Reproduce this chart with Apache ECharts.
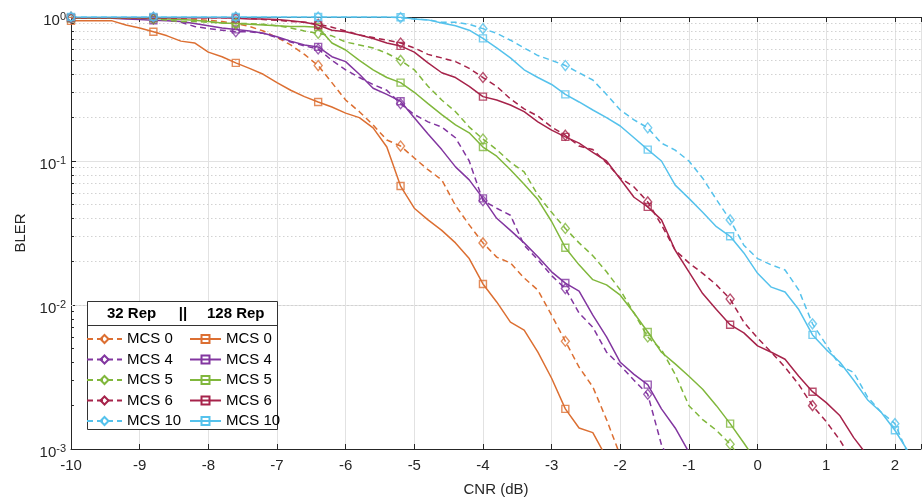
<!DOCTYPE html>
<html>
<head>
<meta charset="utf-8">
<script src="https://cdn.jsdelivr.net/npm/echarts/dist/echarts.min.js"></script>
<style>html,body{margin:0;padding:0;background:#fff}#c{width:924px;height:502px}</style>
</head>
<body>
<div id="c"></div>
<script>
// ---------------- data ----------------
const CNR = [-10,-9.8,-9.6,-9.4,-9.2,-9.0,-8.8,-8.6,-8.4,-8.2,
  -8.0,-7.8,-7.6,-7.4,-7.2,-7.0,-6.8,-6.6,-6.4,-6.2,
  -6.0,-5.8,-5.6,-5.4,-5.2,-5.0,-4.8,-4.6,-4.4,-4.2,
  -4.0,-3.8,-3.6,-3.4,-3.2,-3.0,-2.8,-2.6,-2.4,-2.2,
  -2.0,-1.8,-1.6,-1.4,-1.2,-1.0,-0.8,-0.6,-0.4,-0.2,
  0.0,0.2,0.4,0.6,0.8,1.0,1.2,1.4,1.6,1.8,
  2.0,2.2];

const MCS_NAMES = ['MCS 0','MCS 4','MCS 5','MCS 6','MCS 10'];
const REP_NAMES = ['32 Rep','128 Rep'];

// 32 repetitions (dashed, diamonds)
const rep32_mcs0 = [0.99,0.99,0.99,0.99,0.99,0.99,0.98,0.98,0.97,0.96,
  0.95,0.93,0.90,0.86,0.80,0.72,0.64,0.55,0.46,0.35,
  0.265,0.22,0.178,0.14,0.127,0.105,0.087,0.074,0.049,0.036,
  0.027,0.0215,0.0196,0.0154,0.0127,0.0085,0.0056,0.0037,0.0027,0.0016,
  0.0009];
const rep32_mcs4 = [0.99,0.99,0.99,0.99,0.99,0.98,0.97,0.95,0.92,0.86,
  0.83,0.81,0.79,0.79,0.77,0.72,0.67,0.63,0.60,0.50,
  0.43,0.38,0.34,0.31,0.25,0.21,0.187,0.172,0.145,0.10,
  0.053,0.047,0.042,0.026,0.0206,0.016,0.013,0.0088,0.007,0.0047,
  0.0038,0.003,0.0024,0.00107,0.0007];
const rep32_mcs5 = [0.99,0.99,0.99,0.99,0.99,0.98,0.97,0.95,0.93,0.93,
  0.92,0.91,0.90,0.90,0.89,0.87,0.84,0.80,0.77,0.74,
  0.67,0.64,0.61,0.56,0.50,0.43,0.33,0.265,0.22,0.172,
  0.142,0.12,0.098,0.084,0.058,0.044,0.034,0.027,0.022,0.017,
  0.0127,0.0088,0.006,0.0049,0.0033,0.002,0.0016,0.00135,0.00108,0.0008];
const rep32_mcs6 = [0.99,0.99,0.99,0.99,0.99,0.99,0.99,0.99,0.99,0.99,
  0.99,0.99,0.99,0.98,0.96,0.95,0.93,0.92,0.89,0.85,
  0.80,0.75,0.72,0.69,0.66,0.61,0.55,0.52,0.49,0.44,
  0.38,0.33,0.27,0.23,0.205,0.172,0.151,0.127,0.12,0.097,
  0.076,0.066,0.052,0.036,0.024,0.0196,0.0166,0.0138,0.011,0.0076,
  0.0059,0.0047,0.0037,0.0028,0.002,0.00155,0.00115,0.0008];
const rep32_mcs10 = [1,1,1,1,1,1,1,1,1,1,
  1,1,1,1,1,1,1,1,1,1,
  1,1,1,1,0.99,0.97,0.955,0.92,0.92,0.89,
  0.83,0.77,0.69,0.61,0.54,0.50,0.46,0.41,0.365,0.29,
  0.226,0.193,0.17,0.133,0.119,0.10,0.076,0.054,0.039,0.026,
  0.021,0.019,0.0175,0.0127,0.0074,0.0053,0.0038,0.0034,0.0023,0.0018,
  0.0015,0.0009];

// 128 repetitions (solid, squares)
const rep128_mcs0 = [0.94,0.94,0.94,0.94,0.88,0.84,0.79,0.74,0.68,0.66,
  0.57,0.53,0.48,0.44,0.40,0.35,0.31,0.28,0.257,0.237,
  0.215,0.20,0.17,0.125,0.067,0.047,0.039,0.033,0.027,0.021,
  0.014,0.0105,0.0076,0.0067,0.0047,0.0031,0.0019,0.0014,0.0013,0.00087];
const rep128_mcs4 = [0.98,0.98,0.98,0.98,0.97,0.96,0.95,0.94,0.93,0.90,
  0.87,0.84,0.82,0.80,0.77,0.73,0.68,0.64,0.62,0.53,
  0.49,0.40,0.32,0.29,0.26,0.20,0.154,0.12,0.091,0.074,
  0.055,0.040,0.033,0.027,0.0216,0.017,0.0142,0.0125,0.0085,0.006,
  0.004,0.0033,0.0028,0.0019,0.0014,0.00095];
const rep128_mcs5 = [0.98,0.98,0.98,0.98,0.98,0.98,0.98,0.97,0.96,0.95,
  0.93,0.91,0.90,0.89,0.88,0.87,0.86,0.86,0.85,0.66,
  0.59,0.50,0.43,0.38,0.35,0.30,0.25,0.21,0.178,0.157,
  0.125,0.108,0.087,0.069,0.054,0.038,0.025,0.019,0.015,0.0138,
  0.0117,0.0088,0.0065,0.0047,0.0039,0.0032,0.0026,0.002,0.0015,0.0011,
  0.0008];
const rep128_mcs6 = [0.99,0.99,0.99,0.99,0.99,0.99,0.99,0.99,0.99,0.99,
  0.99,0.99,0.98,0.97,0.97,0.96,0.94,0.92,0.88,0.81,
  0.79,0.75,0.71,0.66,0.63,0.57,0.48,0.41,0.38,0.33,
  0.28,0.265,0.245,0.22,0.187,0.164,0.147,0.133,0.115,0.10,
  0.075,0.056,0.048,0.039,0.024,0.017,0.012,0.0093,0.0073,0.0064,
  0.0052,0.0047,0.0042,0.0032,0.0025,0.0021,0.0017,0.0012,0.0009];
const rep128_mcs10 = [1,1,1,1,1,1,1,1,1,1,
  1,1,1,1,1,1,1,1,1,1,
  1,1,1,1,0.995,0.97,0.955,0.91,0.87,0.81,
  0.71,0.61,0.52,0.43,0.38,0.34,0.29,0.257,0.226,0.20,
  0.175,0.145,0.12,0.10,0.068,0.055,0.044,0.035,0.030,0.023,
  0.0166,0.0133,0.0123,0.0093,0.0062,0.0049,0.004,0.003,0.0022,0.0018,
  0.00135,0.00095];

const X_TICKS = [-10,-9,-8,-7,-6,-5,-4,-3,-2,-1,0,1,2];
const Y_MINOR = [0.002,0.003,0.004,0.005,0.006,0.007,0.008,0.009,
  0.02,0.03,0.04,0.05,0.06,0.07,0.08,0.09,
  0.2,0.3,0.4,0.5,0.6,0.7,0.8,0.9];

// ---------------- styling ----------------
const COLORS = ['#DC6F32','#8236A0','#80B73C','#A6234A','#55C2EC'];
const FONT = 'Liberation Sans, Arial, Helvetica, sans-serif';
const AXIS_C = '#262626';
const MARKER_EVERY = 6;

const groups = [
  {name: MCS_NAMES[0], c: COLORS[0], d32: rep32_mcs0, d128: rep128_mcs0},
  {name: MCS_NAMES[1], c: COLORS[1], d32: rep32_mcs4, d128: rep128_mcs4},
  {name: MCS_NAMES[2], c: COLORS[2], d32: rep32_mcs5, d128: rep128_mcs5},
  {name: MCS_NAMES[3], c: COLORS[3], d32: rep32_mcs6, d128: rep128_mcs6},
  {name: MCS_NAMES[4], c: COLORS[4], d32: rep32_mcs10, d128: rep128_mcs10}
];

function pts(d){ return d.map((v,i)=>[CNR[i], v]); }
function markerPts(d){ return d.map((v,i)=>[CNR[i], v]).filter((p,i)=> i % MARKER_EVERY === 0); }

const series = [];
// decoration: minor grid lines and minor ticks on log axis
series.push({
  type:'line', name:'_grid', data:[], silent:true, z:1,
  markLine:{
    silent:true, animation:false, z:1, symbol:['none','none'], label:{show:false},
    emphasis:{disabled:true},
    lineStyle:{color:'#d2d2d2', type:[1.5,2.5], width:1},
    data: Y_MINOR.map(v=>({yAxis:v})).concat(
      Y_MINOR.map(v=>[{coord:[-10, v], lineStyle:{type:'solid', color:AXIS_C, width:1}}, {coord:[-9.957, v]}]))
  }
});

groups.forEach(g=>{
  const defs = [
    {rep:'32', d:g.d32, dash:[6,4], sym:'diamond', size:[8,10]},
    {rep:'128', d:g.d128, dash:'solid', sym:'rect', size:7}
  ];
  defs.forEach(df=>{
    series.push({
      type:'line', name: df.rep + '|' + g.name, data: pts(df.d),
      symbol: df.sym, showSymbol:false, color: g.c, clip:true,
      lineStyle:{color:g.c, width:1.5, type: df.dash},
      itemStyle:{color:'rgba(255,255,255,0)', borderColor:g.c, borderWidth:1.4},
      z:3, animation:false, silent:true
    });
    series.push({
      type:'scatter', name: 'm' + df.rep + '|' + g.name, data: markerPts(df.d),
      symbol: df.sym, symbolSize: df.size, clip:false,
      itemStyle:{color:'rgba(255,255,255,0)', borderColor:g.c, borderWidth:1.4},
      z:4, animation:false, silent:true
    });
  });
});

function supLabel(v){
  const e = Math.round(Math.log10(v));
  return '{b|10}{s|' + e + '}';
}

const legendCommon = {
  orient:'vertical', top:331, itemHeight:10, itemGap:4.5, padding:0,
  selectedMode:false, z:12, icon:'inherit',
  formatter: n => n.split('|')[1],
  textStyle:{fontSize:15, lineHeight:16, color:'#000', fontFamily:FONT}
};

const option = {
  animation:false,
  backgroundColor:'#fff',
  textStyle:{fontFamily:FONT},
  grid:{left:71, right:0, top:17, bottom:53, containLabel:false},
  xAxis:[{
    type:'value', min:-10, max:2.38, interval:1, position:'bottom',
    axisLine:{show:true, onZero:false, lineStyle:{color:AXIS_C, width:1}},
    axisTick:{show:true, inside:true, length:5, lineStyle:{color:AXIS_C}},
    axisLabel:{margin:9, fontSize:15, color:AXIS_C, fontFamily:FONT,
      formatter: v => X_TICKS.indexOf(Math.round(v)) >= 0 && Math.abs(v-Math.round(v))<1e-9 ? String(Math.round(v)) : ''},
    splitLine:{show:true, lineStyle:{color:'#e2e2e2', width:1}},
    name:'CNR (dB)', nameLocation:'middle', nameGap:33,
    nameTextStyle:{fontSize:15, color:AXIS_C, fontFamily:FONT}
  },{
    type:'value', min:-10, max:2.38, interval:1, position:'top',
    axisLine:{show:true, onZero:false, lineStyle:{color:AXIS_C, width:1}},
    axisTick:{show:true, inside:true, length:5, lineStyle:{color:AXIS_C}},
    axisLabel:{show:false}, splitLine:{show:false}
  }],
  yAxis:{
    type:'log', logBase:10, min:0.001, max:1,
    axisLine:{show:true, onZero:false, lineStyle:{color:AXIS_C, width:1}},
    axisTick:{show:true, inside:true, length:5, lineStyle:{color:AXIS_C}},
    axisLabel:{margin:5, color:AXIS_C, formatter: supLabel,
      rich:{
        b:{fontSize:15, fontFamily:FONT, color:AXIS_C, padding:[8,0,0,0]},
        s:{fontSize:11, fontFamily:FONT, color:AXIS_C}
      }},
    splitLine:{show:true, lineStyle:{color:'#e2e2e2', width:1}},
    name:'BLER', nameLocation:'middle', nameGap:41,
    nameTextStyle:{fontSize:15, color:AXIS_C, fontFamily:FONT}
  },
  legend:[
    Object.assign({}, legendCommon, {left:86, itemWidth:35, data: MCS_NAMES.map(n=>'32|'+n)}),
    Object.assign({}, legendCommon, {left:189, itemWidth:31, data: MCS_NAMES.map(n=>'128|'+n)})
  ],
  graphic:[
    {type:'rect', z:10, shape:{x:87.5, y:301.5, width:190, height:128},
      style:{fill:'#fff', stroke:'#333', lineWidth:1}},
    {type:'line', z:10, shape:{x1:87.5, y1:325.5, x2:277.5, y2:325.5},
      style:{stroke:'#333', lineWidth:1}},
    {type:'text', z:11, x:107, y:314, style:{text:REP_NAMES[0], fontSize:15, fontWeight:'bold', fontFamily:FONT, fill:'#000', verticalAlign:'middle', align:'left'}},
    {type:'text', z:11, x:183, y:314, style:{text:'||', fontSize:15, fontWeight:'bold', fontFamily:FONT, fill:'#000', verticalAlign:'middle', align:'center'}},
    {type:'text', z:11, x:207, y:314, style:{text:REP_NAMES[1], fontSize:15, fontWeight:'bold', fontFamily:FONT, fill:'#000', verticalAlign:'middle', align:'left'}}
  ],
  series: series
};

const chart = echarts.init(document.getElementById('c'), null, {renderer:'canvas'});
chart.setOption(option);
</script>
</body>
</html>
